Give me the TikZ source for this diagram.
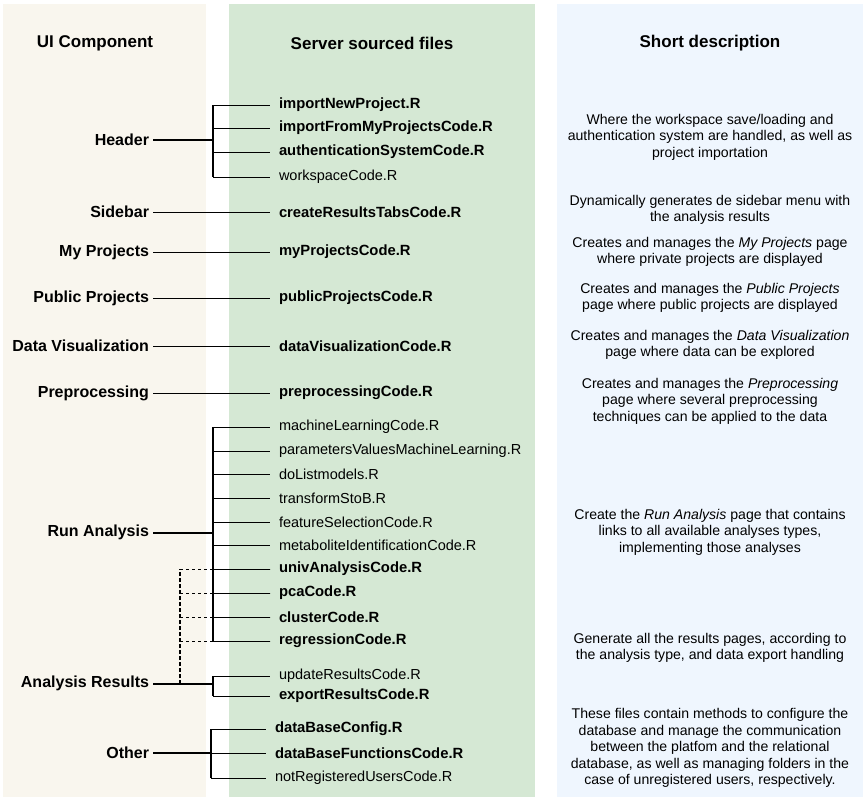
\documentclass[tikz,border=0pt]{standalone}
\usepackage{fontspec}
\setmainfont{Liberation Sans}
\definecolor{colA}{HTML}{F9F6EE}
\definecolor{colB}{HTML}{D5E8D4}
\definecolor{colC}{HTML}{EFF6FE}
\begin{document}
\begin{tikzpicture}[x=1pt,y=-1pt,
  hdr/.style={font=\fontsize{17}{20}\selectfont\bfseries, inner sep=0pt},
  ui/.style={font=\fontsize{16}{19}\selectfont\bfseries, anchor=east, inner sep=2pt, outer sep=2pt},
  fileb/.style={font=\fontsize{14.8}{17}\selectfont\bfseries, anchor=west, inner sep=2pt, outer sep=7pt},
  filen/.style={font=\fontsize{14.5}{17}\selectfont, anchor=west, inner sep=2pt, outer sep=7pt},
  desc/.style={font=\fontsize{14.1}{16.6}\selectfont, align=center, inner sep=0pt},
  mainln/.style={line width=1.8pt},
  singleln/.style={line width=1pt},
  spine/.style={line width=1.3pt},
  branch/.style={line width=1pt},
  dashv/.style={line width=1.8pt, dash pattern=on 4pt off 2pt},
  dashh/.style={line width=1pt, dash pattern=on 3pt off 3pt}
]
\useasboundingbox (0,0) rectangle (867,800);
\fill[white] (0,0) rectangle (867,800);
% column backgrounds
\fill[colA] (3,4) rectangle (206,797);
\fill[colB] (229,4) rectangle (535,797);
\fill[colC] (557,4) rectangle (863,797);

% headers
\node[hdr] (h1) at (95,43) {UI Component};
\node[hdr] (h2) at (372,43) {Server sourced files};
\node[hdr] (h3) at (710,43) {Short description};

% UI labels
\node[ui] (uHeader) at (153,140) {Header};
\node[ui] (uSidebar) at (153,212) {Sidebar};
\node[ui] (uMy) at (153,252) {My Projects};
\node[ui] (uPub) at (153,298) {Public Projects};
\node[ui] (uData) at (153,346) {Data Visualization};
\node[ui] (uPre) at (153,393) {Preprocessing};
\node[ui] (uRun) at (153,532) {Run Analysis};
\node[ui] (uRes) at (153,683) {Analysis Results};
\node[ui] (uOther) at (153,753) {Other};

% files
\node[fileb] (f1) at (270,105) {importNewProject.R};
\node[fileb] (f2) at (270,128) {importFromMyProjectsCode.R};
\node[fileb] (f3) at (270,152) {authenticationSystemCode.R};
\node[filen] (f4) at (270,177) {workspaceCode.R};
\node[fileb] (f5) at (270,212) {createResultsTabsCode.R};
\node[fileb] (f6) at (270,252) {myProjectsCode.R};
\node[fileb] (f7) at (270,298) {publicProjectsCode.R};
\node[fileb] (f8) at (270,346) {dataVisualizationCode.R};
\node[fileb] (f9) at (270,393) {preprocessingCode.R};
\node[filen] (r1) at (270,427) {machineLearningCode.R};
\node[filen] (r2) at (270,451) {parametersValuesMachineLearning.R};
\node[filen] (r3) at (270,474) {doListmodels.R};
\node[filen] (r4) at (270,498) {transformStoB.R};
\node[filen] (r5) at (270,522) {featureSelectionCode.R};
\node[filen] (r6) at (270,545) {metaboliteIdentificationCode.R};
\node[fileb] (r7) at (270,569) {univAnalysisCode.R};
\node[fileb] (r8) at (270,593) {pcaCode.R};
\node[fileb] (r9) at (270,617) {clusterCode.R};
\node[fileb] (r10) at (270,641) {regressionCode.R};
\node[filen] (a1) at (270,676) {updateResultsCode.R};
\node[fileb] (a2) at (270,696) {exportResultsCode.R};
\node[fileb] (o1) at (266,729) {dataBaseConfig.R};
\node[fileb] (o2) at (266,753) {dataBaseFunctionsCode.R};
\node[filen] (o3) at (266,778) {notRegisteredUsersCode.R};

% descriptions
\node[desc] (d1) at (710,137) {Where the workspace save/loading and\\authentication system are handled, as well as\\project importation};
\node[desc] (d2) at (710,210) {Dynamically generates de sidebar menu with\\the analysis results};
\node[desc] (d3) at (710,252) {Creates and manages the \textit{My Projects} page\\where private projects are displayed};
\node[desc] (d4) at (710,298) {Creates and manages the \textit{Public Projects}\\page where public projects are displayed};
\node[desc] (d5) at (710,345) {Creates and manages the \textit{Data Visualization}\\page where data can be explored};
\node[desc] (d6) at (710,401) {Creates and manages the \textit{Preprocessing}\\page where several preprocessing\\techniques can be applied to the data};
\node[desc] (d7) at (710,532) {Create the \textit{Run Analysis} page that contains\\links to all available analyses types,\\implementing those analyses};
\node[desc] (d8) at (710,648) {Generate all the results pages, according to\\the analysis type, and data export handling};
\node[desc] (d9) at (710,748) {These files contain methods to configure the\\database and manage the communication\\between the platfom and the relational\\database, as well as managing folders in the\\case of unregistered users, respectively.};

% junction coordinates
\coordinate (jH) at (213,140);
\coordinate (jR) at (213,533);
\coordinate (jA) at (213,684);
\coordinate (jO) at (211,753);
\coordinate (dv) at (180,684);

% Header group
\draw[mainln] (uHeader.east |- jH) -- (jH);
\draw[spine] (f1.west -| jH) -- (f4.west -| jH);
\foreach \f in {f1,f2,f3,f4} \draw[branch] (\f.west -| jH) -- (\f.west);

% single connectors
\draw[singleln] (uSidebar.east) -- (f5.west);
\draw[singleln] (uMy.east) -- (f6.west);
\draw[singleln] (uPub.east) -- (f7.west);
\draw[singleln] (uData.east) -- (f8.west);
\draw[singleln] (uPre.east) -- (f9.west);

% dashed links Analysis Results to analysis files
\draw[dashv] (dv) -- (r7.west -| dv);
\foreach \f in {r7,r8,r9,r10} \draw[dashh] (\f.west -| dv) -- (\f.west);

% Run Analysis group
\draw[mainln] (uRun.east |- jR) -- (jR);
\draw[spine] (r1.west -| jR) -- (r10.west -| jR);
\foreach \f in {r1,r2,r3,r4,r5,r6,r7,r8,r9,r10} \draw[branch] (\f.west -| jR) -- (\f.west);

% Analysis Results group
\draw[mainln] (uRes.east |- jA) -- (jA);
\draw[spine] (a1.west -| jA) -- (a2.west -| jA);
\foreach \f in {a1,a2} \draw[branch] (\f.west -| jA) -- (\f.west);

% Other group
\draw[mainln] (uOther.east |- jO) -- (jO);
\draw[spine] (o1.west -| jO) -- (o3.west -| jO);
\foreach \f in {o1,o2,o3} \draw[branch] (\f.west -| jO) -- (\f.west);
\end{tikzpicture}
\end{document}
